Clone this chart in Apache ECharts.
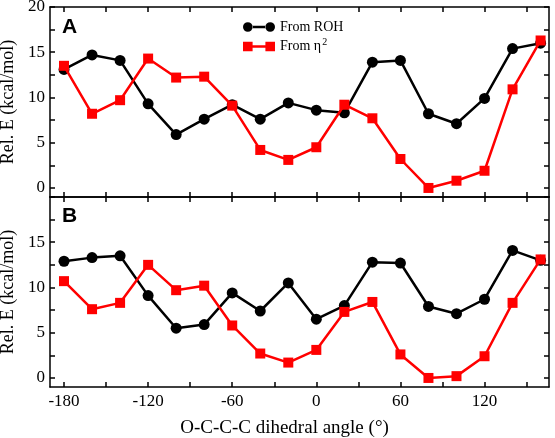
<!DOCTYPE html>
<html>
<head>
<meta charset="utf-8">
<script src="https://cdn.jsdelivr.net/npm/echarts@6/dist/echarts.min.js"></script>
<style>html,body{margin:0;padding:0;background:#fff;}#c{width:555px;height:438px;}</style>
</head>
<body>
<div id="c"></div>
<script>
const angles = [-180,-160,-140,-120,-100,-80,-60,-40,-20,0,20,40,60,80,100,120,140,160];
const rohA  = [13.1,14.7,14.1,9.3,5.9,7.6,9.2,7.6,9.4,8.6,8.3,13.9,14.1,8.2,7.1,9.9,15.4,16.0];
const eta2A = [13.5,8.2,9.7,14.3,12.2,12.3,9.1,4.2,3.1,4.5,9.2,7.7,3.2,0.0,0.8,1.9,10.9,16.3];
const rohB  = [12.9,13.3,13.5,9.1,5.5,5.9,9.4,7.4,10.5,6.5,8.0,12.8,12.7,7.9,7.1,8.7,14.1,13.0];
const eta2B = [10.7,7.6,8.3,12.5,9.7,10.2,5.8,2.7,1.7,3.1,7.3,8.4,2.6,0.0,0.2,2.4,8.3,13.1];
const xTicks = [-180,-150,-120,-90,-60,-30,0,30,60,90,120,150];
const xLabels = [-180,-120,-60,0,60,120];
const yTicks = [0,2.5,5,7.5,10,12.5,15,17.5,20];
const yLabelsA = [0,5,10,15,20];
const yLabelsB = [0,5,10,15];
const seriesNames = ['From ROH','From η2'];

const serif = 'Liberation Serif';
const pair = (ys) => angles.map((a,i) => [a, ys[i]]);

function xAx(grid, pos, labels, name) {
  return {
    type:'value', gridIndex:grid, position:pos, min:-190, max:166,
    axisLine:{show:true, onZero:false, lineStyle:{color:'#000', width:1.5}},
    axisTick:{show:true, inside:true, length:5, customValues:xTicks, lineStyle:{color:'#000', width:1.5}},
    axisLabel:{show:!!labels, customValues:labels||[], margin:6, color:'#000', fontFamily:serif, fontSize:17},
    splitLine:{show:false},
    name:name||'', nameLocation:'middle', nameGap:32,
    nameTextStyle:{color:'#000', fontFamily:serif, fontSize:19, padding:[0,30,0,0]}
  };
}
function yAx(grid, pos, labels, name) {
  return {
    type:'value', gridIndex:grid, position:pos, min:-1, max:20,
    axisLine:{show:true, onZero:false, lineStyle:{color:'#000', width:1.5}},
    axisTick:{show:true, inside:true, length:5, customValues:yTicks, lineStyle:{color:'#000', width:1.5}},
    axisLabel:{show:!!labels, customValues:labels||[], margin:5, color:'#000', fontFamily:serif, fontSize:17},
    splitLine:{show:false},
    name:name||'', nameLocation:'middle', nameGap:29, nameRotate:90,
    nameTextStyle:{color:'#000', fontFamily:serif, fontSize:18}
  };
}
function ser(name, data, xi, yi, black) {
  return {
    type:'line', name:name, data:data, xAxisIndex:xi, yAxisIndex:yi,
    symbol: black ? 'circle' : 'rect', symbolSize: black ? 11 : 10, showAllSymbol:true,
    lineStyle:{width:2.5, color: black ? '#000' : '#ff0000'},
    itemStyle:{color: black ? '#000' : '#ff0000'},
    animation:false, z: black ? 2 : 3
  };
}

const chart = echarts.init(document.getElementById('c'));
chart.setOption({
  animation:false,
  grid:[
    {left:50, right:6, top:7, height:190, outerBoundsMode:'none', containLabel:false},
    {left:50, right:6, top:197, height:190, outerBoundsMode:'none', containLabel:false}
  ],
  xAxis:[
    xAx(0,'bottom',null), xAx(0,'top',null),
    xAx(1,'bottom',xLabels,'O-C-C-C dihedral angle (°)'), xAx(1,'top',null)
  ],
  yAxis:[
    yAx(0,'left',yLabelsA,'Rel. E (kcal/mol)'), yAx(0,'right',null),
    yAx(1,'left',yLabelsB,'Rel. E (kcal/mol)'), yAx(1,'right',null)
  ],
  legend:{
    orient:'vertical', left:238, top:15, itemWidth:32, itemHeight:10, itemGap:3,
    textStyle:{color:'#000', fontFamily:serif, fontSize:14,
      rich:{t:{fontFamily:serif, fontSize:14, color:'#000'}, s:{fontFamily:serif, fontSize:10, color:'#000', padding:[0,0,9,1]}}},
    formatter:(n) => n === seriesNames[1] ? '{t|From η}{s|2}' : '{t|' + n + '}',
    data:[
      {name:seriesNames[0], icon:'path://M0,5a4.5,4.5 0 1,0 9,0a4.5,4.5 0 1,0 -9,0Z M21,5a4.5,4.5 0 1,0 9,0a4.5,4.5 0 1,0 -9,0Z M8.5,3.8H21.5V6.2H8.5Z'},
      {name:seriesNames[1], icon:'path://M0,0.5H9V9.5H0Z M21,0.5H30V9.5H21Z M9,3.8H21V6.2H9Z'}
    ]
  },
  graphic:[
    {type:'text', left:62, top:17, style:{text:'A', font:'bold 21px "Liberation Sans"', fill:'#000'}},
    {type:'text', left:62, top:206, style:{text:'B', font:'bold 21px "Liberation Sans"', fill:'#000'}}
  ],
  series:[
    ser(seriesNames[0], pair(rohA), 0, 0, true),
    ser(seriesNames[1], pair(eta2A), 0, 0, false),
    ser(seriesNames[0], pair(rohB), 2, 2, true),
    ser(seriesNames[1], pair(eta2B), 2, 2, false)
  ]
});
</script>
</body>
</html>
